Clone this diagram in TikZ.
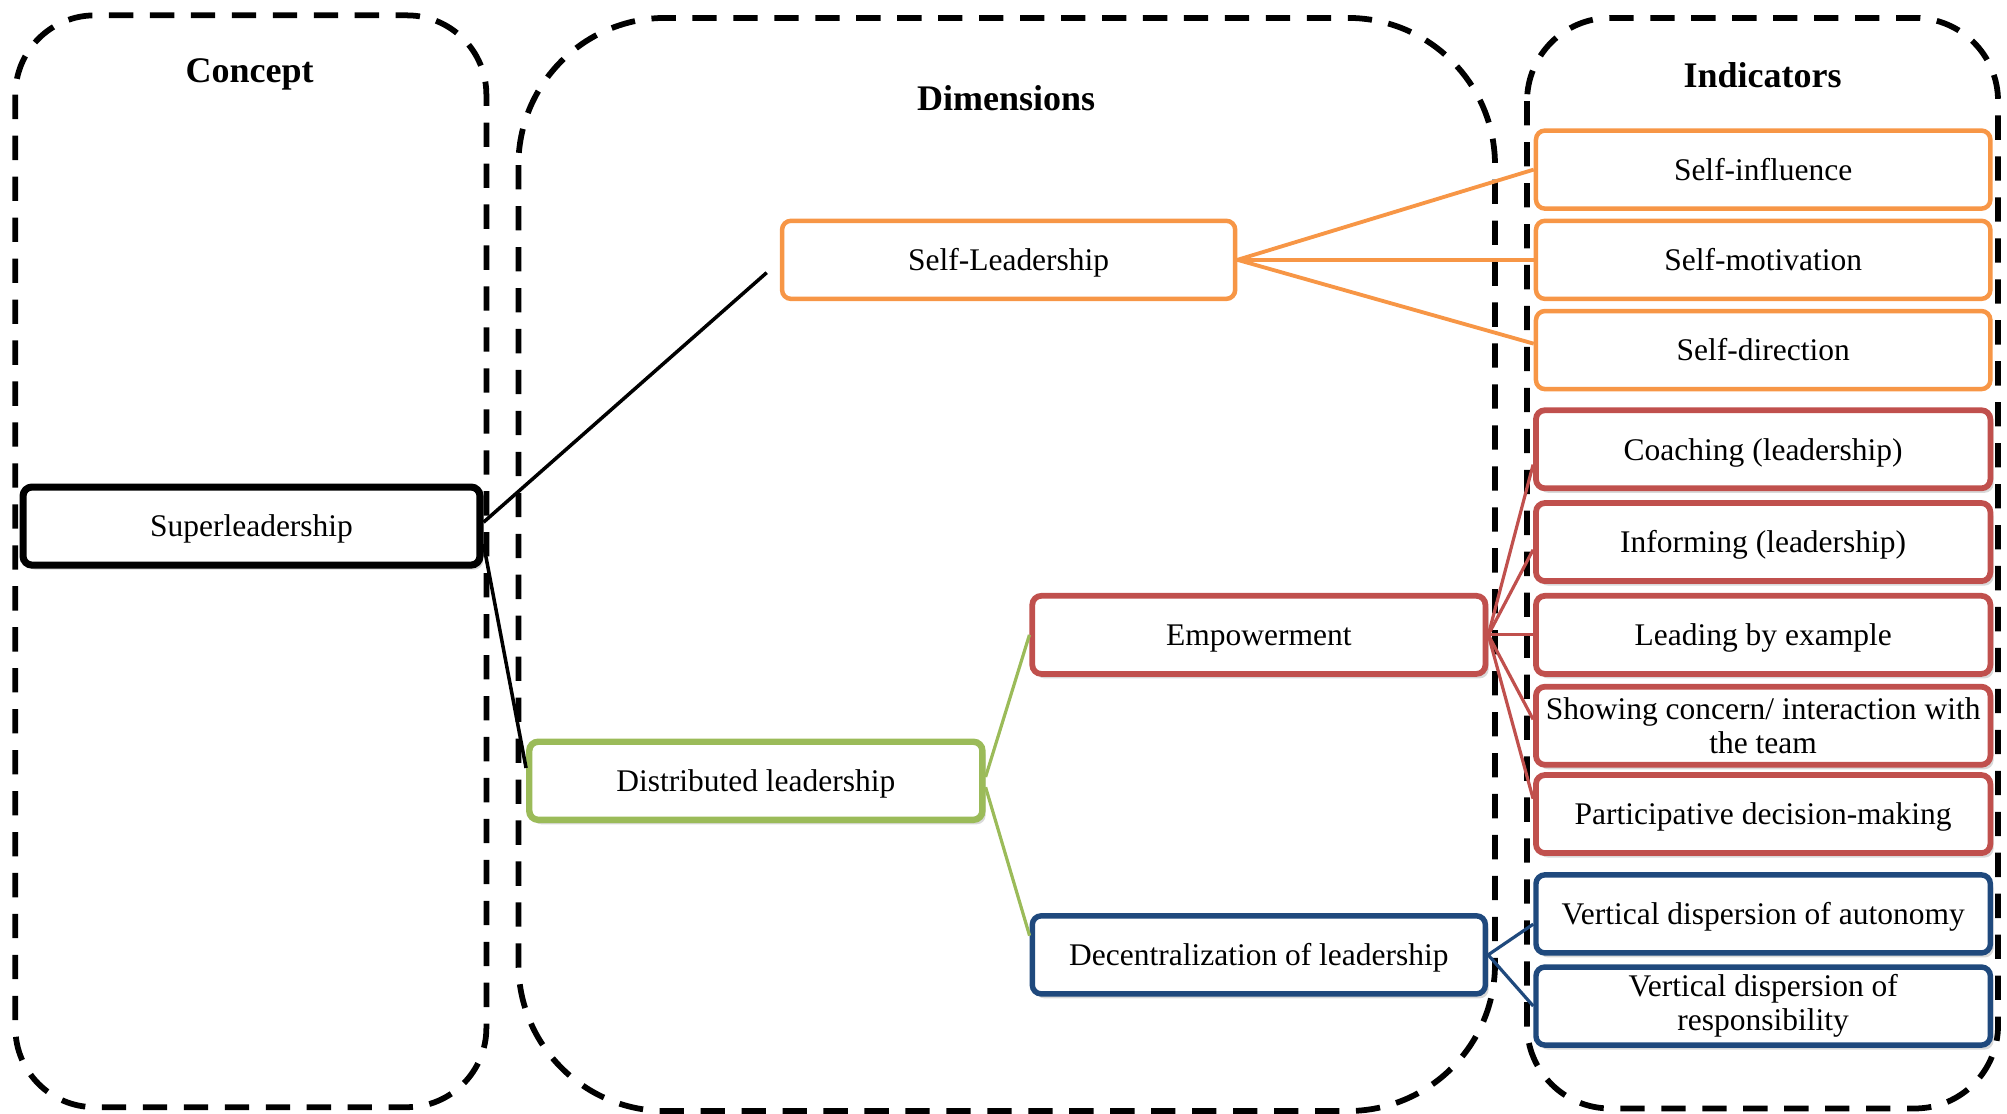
\documentclass[tikz,border=0pt]{standalone}
\usepackage{fontspec}
\setmainfont{Liberation Serif}
\usetikzlibrary{shadows}
\definecolor{orng}{HTML}{F79646}
\definecolor{rd}{HTML}{C0504D}
\definecolor{grn}{HTML}{9BBB59}
\definecolor{blu}{HTML}{1F497D}
\tikzset{
  container/.style={line width=0.9mm, dash pattern=on 3.8mm off 2.6mm},
  title/.style={font=\fontsize{16}{19}\selectfont\bfseries, inner sep=0pt, text height=11pt, text depth=0pt},
  box/.style={rectangle, rounded corners=1.4mm, fill=white, minimum width=70.8mm,
    minimum height=12.2mm, inner sep=0pt, align=center, font=\fontsize{14}{15.2}\selectfont},
  oneline/.style={text height=9.6pt, text depth=0pt},
  shad/.style={drop shadow={shadow xshift=0.5mm, shadow yshift=-0.7mm, opacity=0.3}},
  blackbox/.style={box, shad, draw=black, line width=1.1mm},
  orangebox/.style={box, draw=orng, line width=0.7mm},
  redbox/.style={box, shad, draw=rd, line width=0.9mm},
  greenbox/.style={box, shad, draw=grn, line width=1mm},
  bluebox/.style={box, shad, draw=blu, line width=0.85mm},
  blackline/.style={draw=black, line width=0.55mm},
  orangeline/.style={draw=orng, line width=0.6mm},
  redline/.style={draw=rd, line width=0.5mm},
  greenline/.style={draw=grn, line width=0.5mm},
  blueline/.style={draw=blu, line width=0.5mm}
}
\begin{document}
\begin{tikzpicture}[x=0.2mm,y=-0.2mm]
\useasboundingbox (0,0) rectangle (1568,870);
% containers
\draw[container, rounded corners=12.4mm] (12,12) rectangle (380,865);
\draw[container, rounded corners=23mm] (405,14) rectangle (1168,868);
\draw[container, rounded corners=13mm] (1193,14) rectangle (1561,866);
% titles
\node[title] (tconcept) at (195,55) {Concept};
\node[title] (tdim) at (786,77) {Dimensions};
\node[title] (tind) at (1377,59) {Indicators};
% concept & dimensions
\node[blackbox, oneline, minimum width=71.4mm] (sup) at (196.5,411) {Superleadership};
\node[orangebox, oneline] (sl) at (788,203) {Self-Leadership};
\node[greenbox, oneline] (dl) at (590.5,610) {Distributed leadership};
\node[redbox, oneline] (emp) at (983.5,496) {Empowerment};
\node[bluebox, oneline] (dec) at (983.5,746) {Decentralization of leadership};
% indicators
\node[orangebox, oneline, minimum width=71mm] (i1) at (1377.5,132.5) {Self-influence};
\node[orangebox, oneline, minimum width=71mm] (i2) at (1377.5,203) {Self-motivation};
\node[orangebox, oneline, minimum width=71mm] (i3) at (1377.5,273.5) {Self-direction};
\node[redbox, oneline, minimum width=71mm] (i4) at (1377.5,351) {Coaching (leadership)};
\node[redbox, oneline, minimum width=71mm] (i5) at (1377.5,423.5) {Informing (leadership)};
\node[redbox, oneline, minimum width=71mm] (i6) at (1377.5,496) {Leading by example};
\node[redbox, minimum width=71mm] (i7) at (1377.5,567) {Showing concern/ interaction with\\the team};
\node[redbox, oneline, minimum width=71mm] (i8) at (1377.5,636) {Participative decision-making};
\node[bluebox, oneline, minimum width=71mm] (i9) at (1377.5,714) {Vertical dispersion of autonomy};
\node[bluebox, minimum width=71mm] (i10) at (1377.5,786) {Vertical dispersion of\\responsibility};
% connectors
\coordinate (slend) at (599,213);
\draw[blackline] ([yshift=0.6mm]sup.east) -- (slend);
\draw[blackline] ([yshift=-2.8mm]sup.east) -- ([yshift=2mm]dl.west);
\draw[greenline] ([yshift=0.6mm]dl.east) -- (emp.west);
\draw[greenline] ([yshift=-1mm]dl.east) -- ([yshift=3mm]dec.west);
\draw[orangeline] (sl.east) -- (i1.west);
\draw[orangeline] (sl.east) -- (i2.west);
\draw[orangeline] (sl.east) -- ([yshift=1mm]i3.west);
\draw[redline] (emp.east) -- ([yshift=-2.4mm]i4.west);
\draw[redline] (emp.east) -- ([yshift=-1.2mm]i5.west);
\draw[redline] (emp.east) -- (i6.west);
\draw[redline] (emp.east) -- ([yshift=1mm]i7.west);
\draw[redline] (emp.east) -- ([yshift=2.4mm]i8.west);
\draw[blueline] (dec.east) -- ([yshift=-1.6mm]i9.west);
\draw[blueline] (dec.east) -- (i10.west);
\end{tikzpicture}
\end{document}
